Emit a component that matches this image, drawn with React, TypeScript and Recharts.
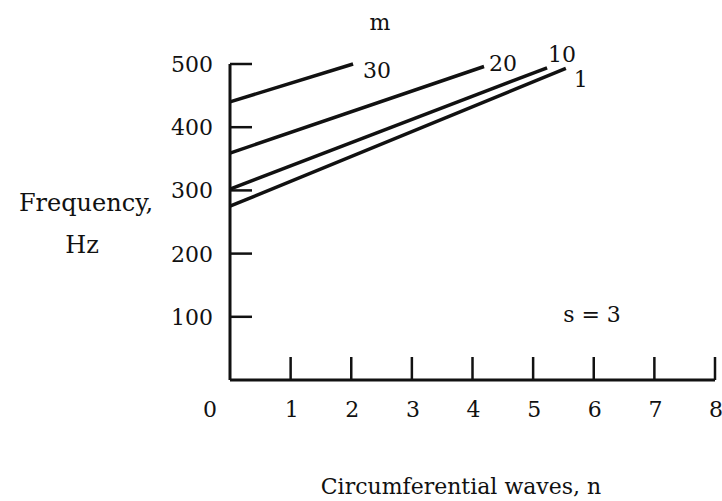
import { LineChart, Line, XAxis, YAxis } from "recharts";

// circumferential waves n, frequency in Hz, for each axial mode m
const m30 = [
  { n: 0, f: 440 },
  { n: 2.03, f: 500 },
];
const m20 = [
  { n: 0, f: 359 },
  { n: 4.19, f: 496 },
];
const m10 = [
  { n: 0, f: 302 },
  { n: 5.23, f: 494 },
];
const m1 = [
  { n: 0, f: 275 },
  { n: 5.54, f: 493 },
];

const xTicks = [0, 1, 2, 3, 4, 5, 6, 7, 8];
const yTicks = [100, 200, 300, 400, 500];

const series = [
  { name: "30", data: m30, dx: 10, dy: 6 },
  { name: "20", data: m20, dx: 5, dy: -4 },
  { name: "10", data: m10, dx: 1, dy: -14 },
  { name: "1", data: m1, dx: 8, dy: 11 },
];

const INK = "#111";
const FONT = "'DejaVu Serif', serif";

function YTick({ x, y, payload }: any) {
  return (
    <g>
      <line x1={x} x2={x + 22} y1={y} y2={y} stroke={INK} strokeWidth={2.5} />
      <text
        x={x - 17}
        y={y}
        dy={8}
        textAnchor="end"
        fill={INK}
        fontSize={22}
        fontFamily={FONT}
      >
        {payload.value}
      </text>
    </g>
  );
}

function XTick({ x, y, payload }: any) {
  const v = payload.value;
  return (
    <g>
      {v > 0 && (
        <line x1={x} x2={x} y1={y} y2={y - 23} stroke={INK} strokeWidth={2.5} />
      )}
      <text
        x={v === 0 ? x - 20 : x + 1}
        y={y + 37}
        textAnchor="middle"
        fill={INK}
        fontSize={22}
        fontFamily={FONT}
      >
        {v}
      </text>
    </g>
  );
}

function endLabel(name: string, last: number, dx: number, dy: number) {
  return (props: any) => {
    if (props.index !== last) return null;
    return (
      <text
        key={name}
        x={props.x + dx}
        y={props.y + dy}
        dy={8}
        fill={INK}
        fontSize={22}
        fontFamily={FONT}
      >
        {name}
      </text>
    );
  };
}

const txt = (left: number, top: number, s: string, size = 22) => (
  <div
    style={{
      position: "absolute",
      left,
      top,
      transform: "translate(-50%, -50%)",
      fontFamily: FONT,
      fontSize: size,
      color: INK,
      lineHeight: 1,
      whiteSpace: "nowrap",
    }}
  >
    {s}
  </div>
);

export default function App() {
  return (
    <div
      style={{
        position: "absolute",
        left: 0,
        top: 0,
        width: 722,
        height: 501,
        background: "#fff",
      }}
    >
      <LineChart
        width={722}
        height={501}
        margin={{ top: 64, right: 7, bottom: 81, left: 170 }}
      >
        <XAxis
          type="number"
          dataKey="n"
          domain={[0, 8]}
          ticks={xTicks}
          tickSize={0}
          tickMargin={0}
          height={40}
          tick={<XTick />}
          tickLine={false}
          axisLine={{ stroke: INK, strokeWidth: 3 }}
          allowDuplicatedCategory={false}
        />
        <YAxis
          type="number"
          dataKey="f"
          domain={[0, 500]}
          ticks={yTicks}
          tickSize={0}
          tickMargin={0}
          width={60}
          tick={<YTick />}
          tickLine={false}
          axisLine={{ stroke: INK, strokeWidth: 3 }}
        />
        {series.map((s) => (
          <Line
            key={s.name}
            data={s.data}
            dataKey="f"
            type="linear"
            stroke={INK}
            strokeWidth={3.5}
            dot={false}
            activeDot={false}
            isAnimationActive={false}
            label={endLabel(s.name, s.data.length - 1, s.dx, s.dy)}
          />
        ))}
      </LineChart>
      {txt(380, 23, "m")}
      {txt(592, 315, "s = 3")}
      {txt(86, 203, "Frequency,", 24)}
      {txt(82, 245, "Hz", 24)}
      {txt(461, 487, "Circumferential waves, n")}
    </div>
  );
}
